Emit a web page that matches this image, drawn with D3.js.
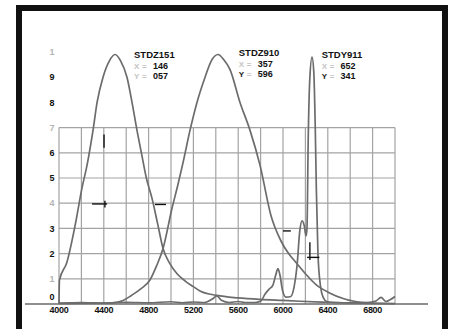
<!DOCTYPE html>
<html>
<head>
<meta charset="utf-8">
<script src="https://cdn.jsdelivr.net/npm/d3@7"></script>
<style>
html,body{margin:0;padding:0;background:#fff;}
svg{display:block;}
text{font-family:"Liberation Sans",Arial,sans-serif;font-weight:bold;}
</style>
</head>
<body>
<svg id="chart" width="456" height="329"></svg>
<script>
// ---- data ----
const xTicks = [4000, 4400, 4800, 5200, 5600, 6000, 6400, 6800];
const xGrid = d3.range(4000, 7001, 200);
const yGrid = [0.1, 0.2, 0.3, 0.4, 0.5, 0.6, 0.7];
const yLabels = ["1", "9", "8", "7", "6", "5", "4", "3", "2", "1", "0"];
const yLabelValues = [1.0, 0.9, 0.8, 0.7, 0.6, 0.5, 0.4, 0.3, 0.2, 0.1, 0.0];
const yLabelFaint = [true, false, false, true, false, false, true, false, false, true, false];

const stdz151 = [[4000,0],[4004,0.095],[4070,0.165],[4143,0.31],[4205,0.46],[4250,0.55],[4304,0.69],
  [4340,0.80],[4393,0.90],[4450,0.965],[4500,0.99],[4550,0.965],[4607,0.90],[4652,0.80],[4696,0.69],
  [4740,0.59],[4780,0.50],[4830,0.42],[4880,0.32],[4929,0.22],[4990,0.16],[5054,0.12],[5130,0.09],
  [5196,0.07],[5259,0.052],[5411,0.034],[5600,0.024],[5795,0.018],[6000,0.014],[6152,0.011],
  [6400,0.007],[6696,0.003],[7000,0.001]];

const stdz910 = [[4000,0.002],[4200,0.003],[4400,0.004],[4500,0.006],[4571,0.014],[4650,0.035],
  [4730,0.06],[4812,0.095],[4870,0.15],[4929,0.22],[5009,0.38],[5060,0.47],[5107,0.56],[5170,0.69],
  [5232,0.80],[5304,0.90],[5360,0.965],[5420,0.99],[5470,0.97],[5527,0.93],[5616,0.80],[5705,0.69],
  [5795,0.55],[5893,0.35],[5982,0.25],[6050,0.20],[6116,0.165],[6200,0.12],[6300,0.075],[6402,0.047],
  [6550,0.02],[6759,0.005],[7000,0.002]];

const stdy911 = [[4000,0.004],[4200,0.006],[4400,0.004],[4600,0.007],[4800,0.005],[5000,0.009],
  [5100,0.005],[5200,0.008],[5300,0.006],[5370,0.02],[5410,0.032],[5450,0.015],[5520,0.006],
  [5600,0.01],[5660,0.006],[5750,0.006],[5803,0.012],[5840,0.04],[5874,0.058],[5910,0.075],
  [5935,0.115],[5955,0.14],[5975,0.11],[5995,0.055],[6027,0.027],[6070,0.03],[6100,0.07],
  [6125,0.15],[6150,0.29],[6170,0.33],[6190,0.31],[6206,0.27],[6214,0.30],[6225,0.65],[6240,0.90],
  [6259,0.98],[6275,0.92],[6288,0.70],[6298,0.45],[6312,0.20],[6335,0.07],[6360,0.025],[6390,0.01],
  [6450,0.006],[6600,0.005],[6750,0.006],[6830,0.012],[6875,0.026],[6920,0.01],[6960,0.018],[7000,0.03]];

const series = [
  {name: "STDZ151", xv: "146", yv: "057", lx: 4670, ly: 55},
  {name: "STDZ910", xv: "357", yv: "596", lx: 5605, ly: 53},
  {name: "STDY911", xv: "652", yv: "341", lx: 6345, ly: 55}
];
const curves = [stdz151, stdz910, stdy911];

// cursor markers: [x1, y1, x2, y2] in data units
const markers = [
  [4402, 0.673, 4402, 0.620],
  [4295, 0.397, 4430, 0.397],
  [4410, 0.41, 4410, 0.383],
  [4857, 0.395, 4955, 0.395],
  [6000, 0.29, 6070, 0.29],
  [6215, 0.185, 6325, 0.185],
  [6240, 0.245, 6240, 0.175]
];

// ---- drawing ----
const svg = d3.select("#chart");
const x = d3.scaleLinear().domain([4000, 7000]).range([59, 395]);
const y = d3.scaleLinear().domain([0, 1]).range([304, 52]);

// frame
svg.append("rect").attr("x", 19).attr("y", 8).attr("width", 426).attr("height", 324)
  .attr("fill", "#fff").attr("stroke", "#111").attr("stroke-width", 6);

// grid
const g = svg.append("g");
g.selectAll("line.v").data(xGrid).enter().append("line")
  .attr("x1", d => x(d)).attr("x2", d => x(d)).attr("y1", y(0)).attr("y2", y(0.7))
  .attr("stroke", "#a3a3a3").attr("stroke-width", 1.2);
g.selectAll("line.h").data(yGrid).enter().append("line")
  .attr("x1", x(4000)).attr("x2", x(7000)).attr("y1", d => y(d)).attr("y2", d => y(d))
  .attr("stroke", "#a3a3a3").attr("stroke-width", 1.2);

// baseline
svg.append("line").attr("x1", x(3696)).attr("x2", x(7295)).attr("y1", y(0)).attr("y2", y(0))
  .attr("stroke", "#6a6a6a").attr("stroke-width", 1.6);

// y labels
svg.selectAll("text.yl").data(yLabels).enter().append("text")
  .attr("x", 52).attr("y", (d, i) => y(yLabelValues[i]) - (i === 10 ? 7 : 0))
  .attr("dy", "0.35em").attr("text-anchor", "middle").attr("font-size", 9)
  .attr("fill", (d, i) => yLabelFaint[i] ? "#b5b5b5" : "#111")
  .attr("font-weight", (d, i) => yLabelFaint[i] ? "normal" : "bold")
  .text(d => d);

// x labels
svg.selectAll("text.xl").data(xTicks).enter().append("text")
  .attr("x", d => x(d)).attr("y", 310).attr("dy", "0.35em").attr("text-anchor", "middle")
  .attr("font-size", 9).attr("fill", "#111").attr("letter-spacing", "-0.3")
  .text(d => d);

// curves
const line = d3.line().x(d => x(d[0])).y(d => y(d[1])).curve(d3.curveMonotoneX);
curves.forEach(c => {
  svg.append("path").attr("d", line(c)).attr("fill", "none")
    .attr("stroke", "#6c6c6c").attr("stroke-width", 1.7).attr("stroke-linejoin", "round");
});

// markers
svg.selectAll("line.m").data(markers).enter().append("line")
  .attr("x1", d => x(d[0])).attr("y1", d => y(d[1])).attr("x2", d => x(d[2])).attr("y2", d => y(d[3]))
  .attr("stroke", "#111").attr("stroke-width", 1.4);

// labels
series.forEach(s => {
  const lx = x(s.lx);
  svg.append("text").attr("x", lx).attr("y", s.ly).attr("dy", "0.35em")
    .attr("font-size", 9.5).attr("fill", "#111").text(s.name);
  [["X", s.xv], ["Y", s.yv]].forEach((r, i) => {
    const yy = s.ly + 11 + i * 10;
    svg.append("text").attr("x", lx).attr("y", yy).attr("dy", "0.35em")
      .attr("font-size", 8).attr("fill", i === 1 && s.name !== "STDZ151" ? "#222" : "#c4c4c4").text(r[0]);
    svg.append("text").attr("x", lx + 8).attr("y", yy).attr("dy", "0.35em")
      .attr("font-size", 8).attr("fill", "#c4c4c4").text("=");
    svg.append("text").attr("x", lx + 34).attr("y", yy).attr("dy", "0.35em")
      .attr("text-anchor", "end").attr("font-size", 9).attr("fill", "#111").text(r[1]);
  });
});
</script>
</body>
</html>
